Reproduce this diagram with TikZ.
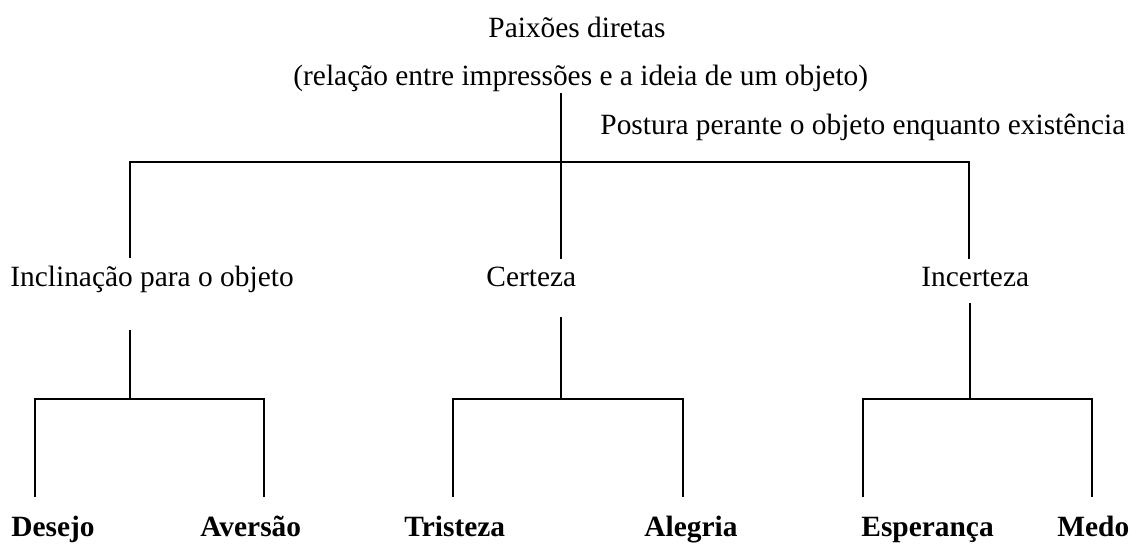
\documentclass[tikz,border=0pt]{standalone}
\usepackage{fontspec}
\setmainfont{Liberation Serif}
\begin{document}
\begin{tikzpicture}[x=0.5pt,y=-0.5pt,
  lbl/.style={anchor=base west,inner sep=0pt,font=\fontsize{14.7}{17}\selectfont},
  leaf/.style={lbl,font=\fontsize{14.7}{17}\selectfont\bfseries},
  conn/.style={draw=black,line width=0.65pt}]
\useasboundingbox (0,0) rectangle (1139,552);
% texts
\node[lbl] (title) at (488,37) {Paixões diretas};
\node[lbl] (sub) at (293,85) {(relação entre impressões e a ideia de um objeto)};
\node[lbl] (post) at (600,134) {Postura perante o objeto enquanto existência};
\node[lbl] (incl) at (10,286) {Inclinação para o objeto};
\node[lbl] (cert) at (486,286) {Certeza};
\node[lbl] (inc) at (921,286) {Incerteza};
\node[leaf] (des) at (11,536) {Desejo};
\node[leaf] (ave) at (200,536) {Aversão};
\node[leaf] (tri) at (404,536) {Tristeza};
\node[leaf] (ale) at (644,536) {Alegria};
\node[leaf] (esp) at (861,536) {Esperança};
\node[leaf] (med) at (1057,536) {Medo};
% junction coordinates
\coordinate (r0) at (561,93);
\coordinate (r1) at (561,259);
\coordinate (jl) at (130,162);
\coordinate (jr) at (969,162);
\coordinate (il) at (130,258);
\coordinate (ir) at (969,259);
% first level
\draw[conn] (r0) -- (r1);
\draw[conn] (il) -- (jl) -- (jr) -- (ir);
% second level
\coordinate (a0) at (130,330);
\coordinate (a1) at (130,399);
\draw[conn] (a0) -- (a1);
\draw[conn] (35,497) -- (35,399) -- (264,399) -- (264,497);
\coordinate (b0) at (561,317);
\coordinate (b1) at (561,399);
\draw[conn] (b0) -- (b1);
\draw[conn] (453,497) -- (453,399) -- (683,399) -- (683,497);
\coordinate (c0) at (970,303);
\coordinate (c1) at (970,399);
\draw[conn] (c0) -- (c1);
\draw[conn] (863,497) -- (863,399) -- (1092,399) -- (1092,497);
\end{tikzpicture}
\end{document}
